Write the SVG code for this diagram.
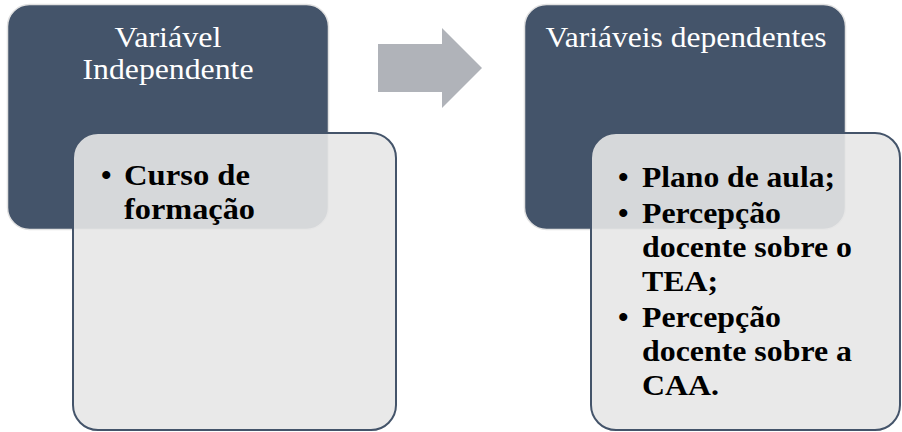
<svg xmlns="http://www.w3.org/2000/svg" width="902" height="432" viewBox="0 0 902 432">
  <style>
    .head { fill: #44546a; stroke: #e2e2e2; stroke-width: 1.5; }
    .body { fill: #e7e7e7; fill-opacity: 0.9; stroke: #44546a; stroke-width: 2; }
    .title { font-family: "Liberation Serif", serif; font-size: 29px; fill: #ffffff; text-anchor: middle; }
    .item { font-family: "Liberation Serif", serif; font-size: 30px; font-weight: bold; fill: #000000; }
  </style>

  <!-- Independent variable -->
  <g id="independente">
    <rect class="head" x="7.5" y="4.5" width="321" height="225" rx="22" ry="22"/>
    <text class="title" x="168" y="46.5" textLength="107" lengthAdjust="spacingAndGlyphs">Variável</text>
    <text class="title" x="168" y="78.5" textLength="171" lengthAdjust="spacingAndGlyphs">Independente</text>
  </g>
  <g id="independente-lista">
    <rect class="body" x="73" y="133" width="323" height="297" rx="25" ry="25"/>
    <text class="item" x="101" y="185">•</text>
    <text class="item" x="124" y="185" textLength="126" lengthAdjust="spacingAndGlyphs">Curso de</text>
    <text class="item" x="124" y="219" textLength="131" lengthAdjust="spacingAndGlyphs">formação</text>
  </g>

  <!-- Dependent variables -->
  <g id="dependentes">
    <rect class="head" x="524.5" y="4.5" width="321" height="225" rx="22" ry="22"/>
    <text class="title" x="686" y="46.5" textLength="281" lengthAdjust="spacingAndGlyphs">Variáveis dependentes</text>
  </g>
  <g id="dependentes-lista">
    <rect class="body" x="591" y="133" width="309" height="297" rx="25" ry="25"/>
    <text class="item" x="618" y="187">•</text>
    <text class="item" x="642" y="187" textLength="193" lengthAdjust="spacingAndGlyphs">Plano de aula;</text>
    <text class="item" x="618" y="223">•</text>
    <text class="item" x="642" y="223" textLength="139" lengthAdjust="spacingAndGlyphs">Percepção</text>
    <text class="item" x="642" y="257" textLength="210" lengthAdjust="spacingAndGlyphs">docente sobre o</text>
    <text class="item" x="642" y="291" textLength="76" lengthAdjust="spacingAndGlyphs">TEA;</text>
    <text class="item" x="618" y="327">•</text>
    <text class="item" x="642" y="327" textLength="139" lengthAdjust="spacingAndGlyphs">Percepção</text>
    <text class="item" x="642" y="361" textLength="210" lengthAdjust="spacingAndGlyphs">docente sobre a</text>
    <text class="item" x="642" y="395" textLength="77" lengthAdjust="spacingAndGlyphs">CAA.</text>
  </g>

  <!-- Connector arrow -->
  <g id="conectores">
    <polygon points="378,44 442,44 442,28 482,68 442,108 442,92 378,92" fill="#b0b3b9"/>
  </g>
</svg>
